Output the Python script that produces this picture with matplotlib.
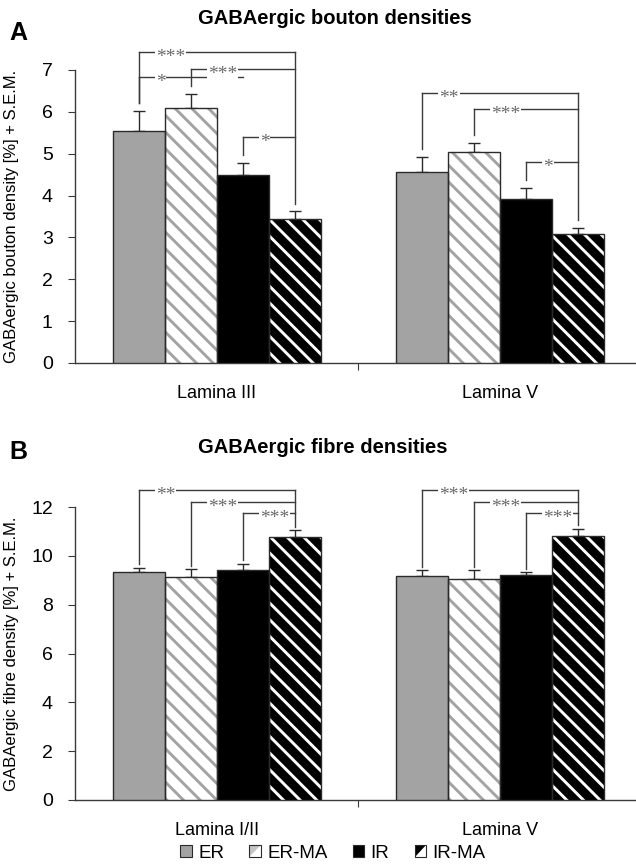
import numpy as np
import matplotlib
matplotlib.use('Agg')
import matplotlib.pyplot as plt
from matplotlib.patches import Patch, Rectangle, Polygon
from matplotlib.legend_handler import HandlerBase

plt.rcParams['font.family'] = ['Liberation Sans', 'DejaVu Sans']

groups = ['ER', 'ER-MA', 'IR', 'IR-MA']

bouton_laminae = ['Lamina III', 'Lamina V']
bouton_mean = [[5.55, 6.09, 4.50, 3.43],
               [4.57, 5.03, 3.92, 3.09]]
bouton_sem = [[0.47, 0.34, 0.29, 0.19],
              [0.36, 0.23, 0.26, 0.14]]
# (lamina, from group, to group, bracket height, stars)
bouton_sig = [(0, 0, 3, 7.42, '***'), (0, 0, 2, 6.84, '*'),
              (0, 1, 3, 7.03, '***'), (0, 2, 3, 5.40, '*'),
              (1, 0, 3, 6.45, '**'), (1, 1, 3, 6.06, '***'),
              (1, 2, 3, 4.80, '*')]

fibre_laminae = ['Lamina I/II', 'Lamina V']
fibre_mean = [[9.33, 9.13, 9.41, 10.78],
              [9.19, 9.06, 9.22, 10.82]]
fibre_sem = [[0.19, 0.32, 0.25, 0.26],
             [0.21, 0.34, 0.10, 0.29]]
fibre_sig = [(0, 0, 3, 12.70, '**'), (0, 1, 3, 12.20, '***'),
             (0, 2, 3, 11.75, '***'),
             (1, 0, 3, 12.70, '***'), (1, 1, 3, 12.20, '***'),
             (1, 2, 3, 11.75, '***')]

W = 0.1834
GREY = '#a3a3a3'
EDGE = '#2a2a2a'
LINE = '#3a3a3a'
STAR = '#6a6a6a'

styles = [
    dict(facecolor=GREY, edgecolor=GREY, hatch=None, icon=None),
    dict(facecolor='white', edgecolor=GREY, hatch='\\\\', icon='#c4c4c4'),
    dict(facecolor='black', edgecolor='black', hatch=None, icon=None),
    dict(facecolor='black', edgecolor='white', hatch='\\\\', icon='black'),
]
plt.rcParams['hatch.linewidth'] = 2.1


class HalfHandler(HandlerBase):
    """Legend box split on the diagonal, like the striped bars' icons."""

    def __init__(self, color):
        super().__init__()
        self.color = color

    def create_artists(self, legend, orig, xd, yd, width, height, fontsize, trans):
        x0, y0 = -xd, -yd
        base = Rectangle((x0, y0), width, height, facecolor='white',
                         edgecolor='none', transform=trans)
        tri = Polygon([[x0, y0], [x0, y0 + height], [x0 + width, y0 + height]],
                      closed=True, facecolor=self.color, edgecolor='none', transform=trans)
        frame = Rectangle((x0, y0), width, height, facecolor='none',
                          edgecolor=EDGE, linewidth=0.8, transform=trans)
        return [base, tri, frame]


def panel(ax, laminae, means, sems, sigs, ymax, ystep, gap):
    means = np.array(means)
    sems = np.array(sems)
    centers = np.arange(len(laminae)) + 0.5
    xs = {}
    for i, st in enumerate(styles):
        x = centers + (i - 1.5) * W
        xs[i] = x
        ax.bar(x, means[:, i], W, color=st['facecolor'], edgecolor=st['edgecolor'],
               hatch=st['hatch'], linewidth=0, zorder=3)
        ax.bar(x, means[:, i], W, fill=False, edgecolor=EDGE, linewidth=1.0, zorder=4)
        ax.errorbar(x, means[:, i], yerr=[np.zeros(len(x)), sems[:, i]], fmt='none',
                    ecolor=EDGE, elinewidth=1.0, capsize=4, capthick=1.0, zorder=2)

    tops = means + sems
    for lam in range(len(laminae)):
        rows = [s for s in sigs if s[0] == lam]
        # common right-hand vertical at the target bar
        hi = max(s[3] for s in rows)
        tgt = rows[0][2]
        ax.plot([xs[tgt][lam]] * 2, [hi, tops[lam, tgt] + gap], color=LINE, lw=1,
                clip_on=False, zorder=5)
        for _, a, b, h, lab in rows:
            xa, xb = xs[a][lam], xs[b][lam]
            ax.plot([xa, xa], [h, tops[lam, a] + gap], color=LINE, lw=1,
                    clip_on=False, zorder=5)
            ax.plot([xa, xb], [h, h], color=LINE, lw=1, clip_on=False, zorder=5)
            ax.text(xa + 0.06, h - 0.012 * ymax, lab, family='Liberation Serif',
                    fontsize=14, color=STAR, ha='left', va='center_baseline', zorder=6,
                    bbox=dict(facecolor='white', edgecolor='none', pad=0.5),
                    clip_on=False)

    ax.set_xlim(0, 2)
    ax.set_ylim(0, ymax)
    ax.set_yticks(np.arange(0, ymax + 0.01, ystep))
    ax.set_xticks([1])
    ax.set_xticklabels([''])
    ax.set_xticks(centers, minor=True)
    ax.set_xticklabels(laminae, minor=True, fontsize=13)
    ax.tick_params(axis='x', which='minor', length=0, pad=16)
    ax.tick_params(axis='x', which='major', length=5, direction='out', color=LINE)
    ax.tick_params(axis='y', length=5, direction='out', labelsize=14, pad=11, color=LINE)
    for side in ['top', 'right']:
        ax.spines[side].set_visible(False)
    for side in ['left', 'bottom']:
        ax.spines[side].set_color(LINE)
        ax.spines[side].set_linewidth(1.0)


fig = plt.figure(figsize=(6.36, 8.65), dpi=100)
ax1 = fig.add_axes([75 / 636, 1 - 363 / 865, 567 / 636, 293 / 865])
ax2 = fig.add_axes([75 / 636, 1 - 800 / 865, 567 / 636, 293 / 865])

panel(ax1, bouton_laminae, bouton_mean, bouton_sem, bouton_sig, 7, 1, 0.19)
panel(ax2, fibre_laminae, fibre_mean, fibre_sem, fibre_sig, 12, 2, 0.15)

ax1.set_ylabel('GABAergic bouton density [%] + S.E.M.', fontsize=12)
ax2.set_ylabel('GABAergic fibre density [%] + S.E.M.', fontsize=12)
ax1.yaxis.set_label_coords(-56 / 567, 0.5)
ax2.yaxis.set_label_coords(-56 / 567, 0.5)

fig.text(198 / 636, 1 - 18 / 865, 'GABAergic bouton densities', ha='left', va='center',
         fontsize=14.5, fontweight='bold')
fig.text(198 / 636, 1 - 448 / 865, 'GABAergic fibre densities', ha='left', va='center',
         fontsize=14.5, fontweight='bold')
fig.text(9 / 636, 1 - 33 / 865, 'A', ha='left', va='center', fontsize=18, fontweight='bold')
fig.text(9 / 636, 1 - 452 / 865, 'B', ha='left', va='center', fontsize=18, fontweight='bold')

handles = []
handler_map = {}
for st in styles:
    h = Patch(facecolor=st['facecolor'], edgecolor=EDGE, linewidth=0.8)
    if st['icon']:
        handler_map[h] = HalfHandler(st['icon'])
    handles.append(h)
fig.legend(handles, groups, loc='center', bbox_to_anchor=(333 / 636, 1 - 853 / 865),
           ncol=4, frameon=False, fontsize=13.5, handlelength=0.6, handleheight=0.6,
           handletextpad=0.35, columnspacing=1.35, borderpad=0, handler_map=handler_map)

fig.savefig('out.png', dpi=100)
